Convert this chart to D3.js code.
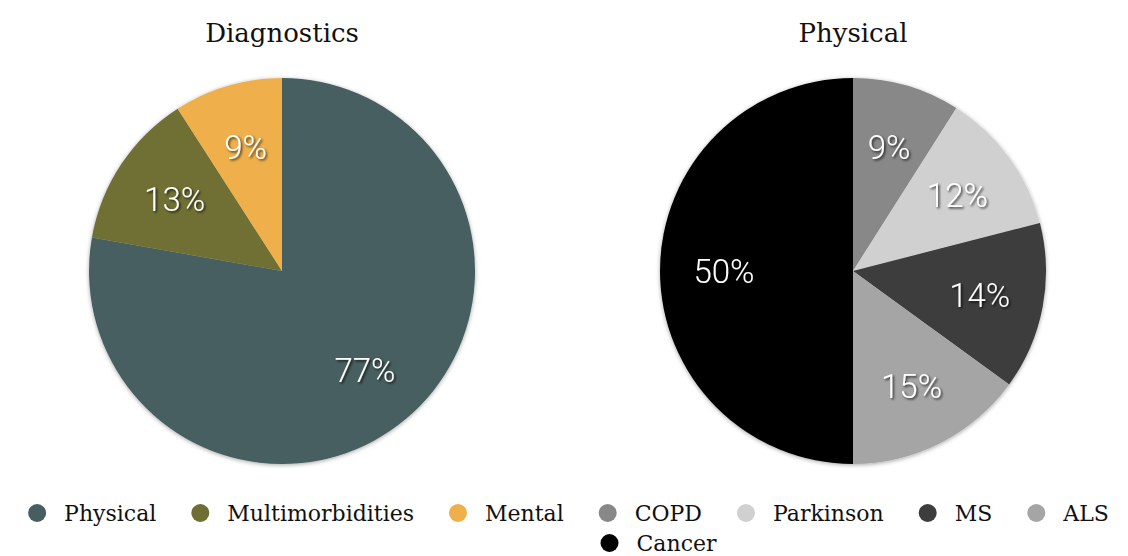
<!DOCTYPE html>
<html>
<head>
  <meta charset="UTF-8">
  <style>
    body {
      margin: 0;
      background-color: white;
    }
    svg {
      display: block;
    }
    .title {
      font-family: 'DejaVu Serif', serif;
      font-size: 26px;
      fill: #111;
    }
    .pct {
      font-family: Roboto, 'Open Sans', sans-serif;
      font-weight: 300;
      font-size: 33px;
      fill: white;
    }
    .legend text {
      font-family: 'DejaVu Serif', serif;
      font-size: 22px;
      fill: #111;
    }
  </style>
</head>
<body>

<svg></svg>

<script src="https://d3js.org/d3.v7.min.js"></script>

<script>
// data
let diagLabels = ["Physical", "Multimorbidities", "Mental"];
let diagValues = [77, 13, 9];
let diagColors = ["#475e60", "#6f6f35", "#efb04b"];

let physLabels = ["COPD", "Parkinson", "MS", "ALS", "Cancer"];
let physValues = [9, 12, 14, 15, 50];
let physColors = ["#888888", "#d0d0d0", "#3d3d3d", "#a5a5a5", "#000000"];

let titles = ["Diagnostics", "Physical"];

let width = 1128, height = 556;

let svg = d3.select("svg")
    .attr("width", width)
    .attr("height", height);

let defs = svg.append("defs");
defs.append("filter")
    .attr("id", "txtshadow")
    .attr("x", "-20%").attr("y", "-20%")
    .attr("width", "140%").attr("height", "140%")
  .append("feDropShadow")
    .attr("dx", 1.5).attr("dy", 1.5)
    .attr("stdDeviation", 1.2)
    .attr("flood-color", "#000")
    .attr("flood-opacity", 0.75);
defs.append("filter")
    .attr("id", "pieshadow")
    .attr("x", "-10%").attr("y", "-10%")
    .attr("width", "120%").attr("height", "120%")
  .append("feDropShadow")
    .attr("dx", 0).attr("dy", 1)
    .attr("stdDeviation", 2)
    .attr("flood-color", "#000")
    .attr("flood-opacity", 0.35);

let radius = 193;
let labelR = 129;

let pie = d3.pie().sort(null).value(d => d.value);
let arc = d3.arc().innerRadius(0).outerRadius(radius);
let labelArc = d3.arc().innerRadius(labelR).outerRadius(labelR);

function drawPie(cx, title, labels, values, colors) {
  let data = labels.map((l, i) => ({label: l, value: values[i], color: colors[i]}));
  let g = svg.append("g").attr("transform", `translate(${cx},271)`);

  svg.append("text")
      .attr("class", "title")
      .attr("x", cx)
      .attr("y", 42)
      .attr("text-anchor", "middle")
      .text(title);

  let arcs = pie(data);
  g.append("g")
      .attr("filter", "url(#pieshadow)")
    .selectAll("path")
    .data(arcs)
    .enter()
    .append("path")
      .attr("d", arc)
      .attr("fill", d => d.data.color);

  g.selectAll("text")
    .data(arcs)
    .enter()
    .append("text")
      .attr("class", "pct")
      .attr("filter", "url(#txtshadow)")
      .attr("transform", d => `translate(${labelArc.centroid(d)})`)
      .attr("text-anchor", "middle")
      .attr("dy", "0.36em")
      .text(d => d.data.value + "%");
}

drawPie(282, titles[0], diagLabels, diagValues, diagColors);
drawPie(853, titles[1], physLabels, physValues, physColors);

// legend, flowed row by row
let legendItems = diagLabels.map((l, i) => ({label: l, color: diagColors[i]}))
  .concat(physLabels.map((l, i) => ({label: l, color: physColors[i]})));

let legend = svg.append("g").attr("class", "legend");
let items = legend.selectAll("g")
  .data(legendItems)
  .enter()
  .append("g");

items.append("circle")
    .attr("r", 9)
    .attr("cx", 0)
    .attr("cy", 0)
    .attr("fill", d => d.color);

items.append("text")
    .attr("x", 27)
    .attr("dy", "0.35em")
    .text(d => d.label);

let gap = 44, maxW = 1110;
let rows = [[]], rowW = [0];
items.each(function(d) {
  let w = 27 + this.querySelector("text").getComputedTextLength();
  let r = rows.length - 1;
  let need = rows[r].length ? gap + w : w;
  if (rowW[r] + need > maxW) {
    rows.push([]); rowW.push(0); r++;
    need = w;
  }
  d.x = rowW[r] + (rows[r].length ? gap : 0);
  rowW[r] += need;
  rows[r].push(this);
  d.row = r;
});

// the second row sits a bit right of centre in the original
let rowShift = [0, 90];
items.attr("transform", d => {
  let off = (width - rowW[d.row]) / 2 + 9 + rowShift[d.row];
  return `translate(${off + d.x},${513 + d.row * 30})`;
});
</script>

</body>
</html>
